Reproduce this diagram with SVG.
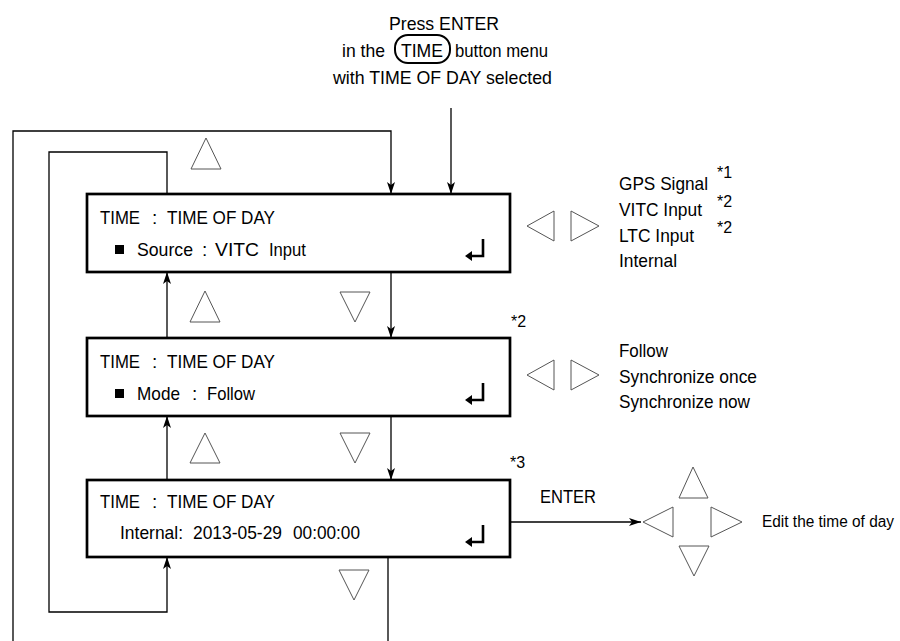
<svg xmlns="http://www.w3.org/2000/svg" width="900" height="641" viewBox="0 0 900 641">
<style>
text{font-family:"Liberation Sans",Arial,sans-serif;font-size:19px;fill:#000}
.sup{font-size:16px}
.box{fill:#fff;stroke:#000;stroke-width:2.7}
.ln{fill:none;stroke:#000;stroke-width:1.3}
.tri{fill:none;stroke:#555;stroke-width:1}
</style>
<defs>
<marker id="ah" markerUnits="userSpaceOnUse" markerWidth="12" markerHeight="8" refX="12" refY="4" orient="auto">
<path d="M0,0 L12,4 L0,8 L3,4 Z" fill="#000"/>
</marker>
<g id="enterGlyph">
<path d="M0,0 V17 H-13" fill="none" stroke="#000" stroke-width="2.6"/>
<path d="M-18,17 L-11,12 L-11,22 Z" fill="#000"/>
</g>
</defs>
<rect width="900" height="641" fill="#fff"/>

<g id="title">
<text x="389" y="30" textLength="110" lengthAdjust="spacingAndGlyphs">Press ENTER</text>
<text x="342" y="57" textLength="43" lengthAdjust="spacingAndGlyphs">in the</text>
<rect x="395" y="35" width="55" height="28" rx="13" fill="none" stroke="#000" stroke-width="2"/>
<text x="401" y="57" textLength="42" lengthAdjust="spacingAndGlyphs">TIME</text>
<text x="455" y="57" textLength="93" lengthAdjust="spacingAndGlyphs">button menu</text>
<text x="333" y="84" textLength="219" lengthAdjust="spacingAndGlyphs">with TIME OF DAY selected</text>
</g>

<g id="connectors">
<path class="ln" d="M451,108 V194" marker-end="url(#ah)"/>
<path class="ln" d="M388,557 V660 H13 V131 H391 V194" marker-end="url(#ah)"/>
<path class="ln" d="M167,194 V152 H49 V612 H167 V557" marker-end="url(#ah)"/>
<path class="ln" d="M167,338 V272" marker-end="url(#ah)"/>
<path class="ln" d="M167,480 V416" marker-end="url(#ah)"/>
<path class="ln" d="M391,272 V338" marker-end="url(#ah)"/>
<path class="ln" d="M391,416 V480" marker-end="url(#ah)"/>
<path class="ln" d="M510,522 H641" marker-end="url(#ah)"/>
</g>

<g id="box1">
<rect class="box" x="87" y="194" width="423" height="78"/>
<text y="224"><tspan x="100" textLength="40" lengthAdjust="spacingAndGlyphs">TIME</tspan><tspan x="152">:</tspan><tspan x="167" textLength="108" lengthAdjust="spacingAndGlyphs">TIME OF DAY</tspan></text>
<rect x="115" y="245" width="9" height="9" fill="#000"/>
<text y="256"><tspan x="137" textLength="56" lengthAdjust="spacingAndGlyphs">Source</tspan><tspan x="202">:</tspan><tspan x="215" textLength="44" lengthAdjust="spacingAndGlyphs">VITC</tspan><tspan x="269" textLength="37" lengthAdjust="spacingAndGlyphs">Input</tspan></text>
<use href="#enterGlyph" x="483" y="239"/>
</g>

<g id="box2">
<rect class="box" x="87" y="338" width="423" height="78"/>
<text y="368"><tspan x="100" textLength="40" lengthAdjust="spacingAndGlyphs">TIME</tspan><tspan x="152">:</tspan><tspan x="167" textLength="108" lengthAdjust="spacingAndGlyphs">TIME OF DAY</tspan></text>
<rect x="115" y="389" width="9" height="9" fill="#000"/>
<text y="400"><tspan x="137" textLength="43" lengthAdjust="spacingAndGlyphs">Mode</tspan><tspan x="192">:</tspan><tspan x="207" textLength="48" lengthAdjust="spacingAndGlyphs">Follow</tspan></text>
<use href="#enterGlyph" x="483" y="383"/>
<text class="sup" x="511" y="327">*2</text>
</g>

<g id="box3">
<rect class="box" x="87" y="480" width="423" height="77"/>
<text y="508"><tspan x="100" textLength="40" lengthAdjust="spacingAndGlyphs">TIME</tspan><tspan x="152">:</tspan><tspan x="167" textLength="108" lengthAdjust="spacingAndGlyphs">TIME OF DAY</tspan></text>
<text y="539"><tspan x="120" textLength="63" lengthAdjust="spacingAndGlyphs">Internal:</tspan><tspan x="193" textLength="89" lengthAdjust="spacingAndGlyphs">2013-05-29</tspan><tspan x="293" textLength="67" lengthAdjust="spacingAndGlyphs">00:00:00</tspan></text>
<use href="#enterGlyph" x="483" y="525"/>
<text class="sup" x="510" y="468">*3</text>
</g>

<g id="navKeys">
<polygon class="tri" points="206,138 191,169 221,169"/>
<polygon class="tri" points="205,291 190,322 220,322"/>
<polygon class="tri" points="340,292 370,292 355,322"/>
<polygon class="tri" points="205,433 190,463 220,463"/>
<polygon class="tri" points="340,433 370,433 355,463"/>
<polygon class="tri" points="339,570 369,570 354,600"/>
</g>

<g id="sourceOptions">
<polygon class="tri" points="527,226 554,211 554,241"/>
<polygon class="tri" points="571,211 571,241 599,226"/>
<text x="619" y="190" textLength="89" lengthAdjust="spacingAndGlyphs">GPS Signal</text>
<text x="619" y="216" textLength="83" lengthAdjust="spacingAndGlyphs">VITC Input</text>
<text x="619" y="242" textLength="75" lengthAdjust="spacingAndGlyphs">LTC Input</text>
<text x="619" y="267" textLength="58" lengthAdjust="spacingAndGlyphs">Internal</text>
<text class="sup" x="717" y="178">*1</text>
<text class="sup" x="717" y="207">*2</text>
<text class="sup" x="717" y="233">*2</text>
</g>

<g id="modeOptions">
<polygon class="tri" points="527,375 554,360 554,390"/>
<polygon class="tri" points="571,360 571,390 599,375"/>
<text x="619" y="357" textLength="49" lengthAdjust="spacingAndGlyphs">Follow</text>
<text x="619" y="383" textLength="138" lengthAdjust="spacingAndGlyphs">Synchronize once</text>
<text x="619" y="408" textLength="131" lengthAdjust="spacingAndGlyphs">Synchronize now</text>
</g>

<g id="editTime">
<text x="540" y="503" textLength="56" lengthAdjust="spacingAndGlyphs">ENTER</text>
<polygon class="tri" points="693,467 679,498 708,498"/>
<polygon class="tri" points="643,522 673,507 673,537"/>
<polygon class="tri" points="711,507 711,537 742,522"/>
<polygon class="tri" points="679,546 709,546 694,576"/>
<text x="762" y="527" style="font-size:16px" textLength="132" lengthAdjust="spacingAndGlyphs">Edit the time of day</text>
</g>
</svg>
